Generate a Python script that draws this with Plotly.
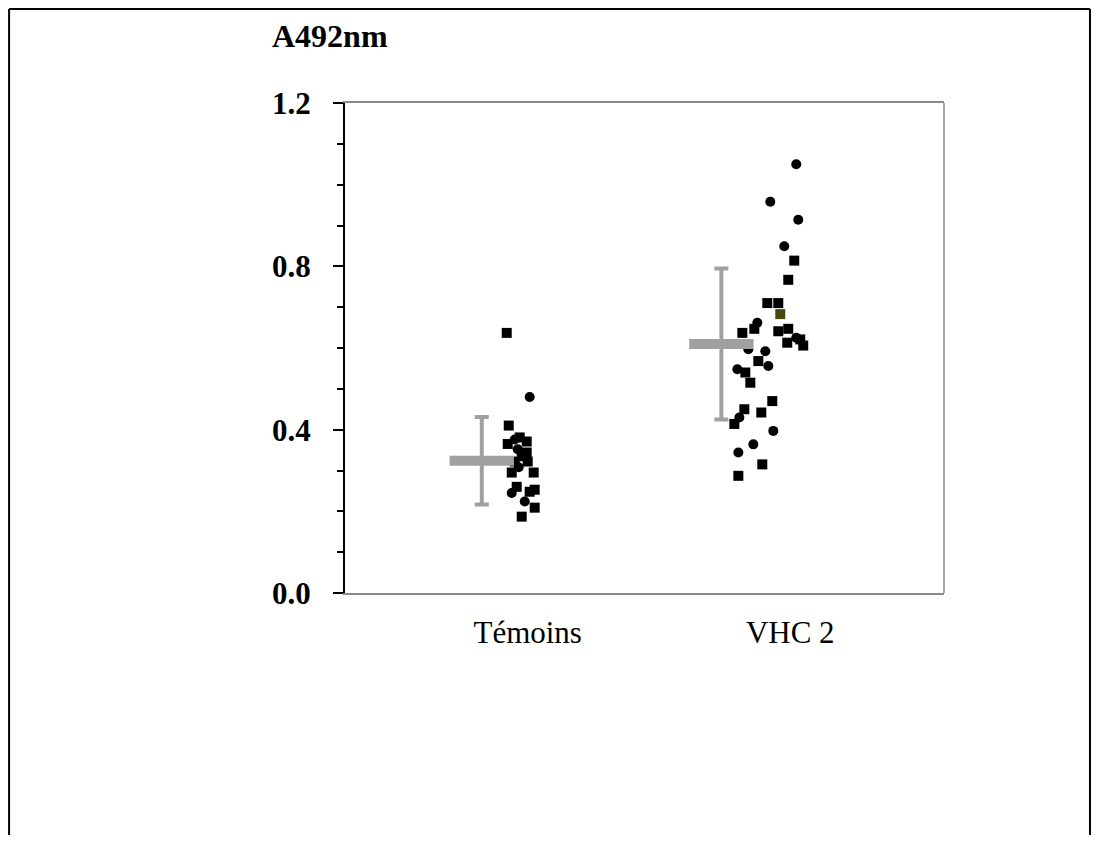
import plotly.graph_objects as go

# group names and where each group sits on the x axis
groups = ["Témoins", "VHC 2"]
group_center = [1.37, 3.77]
label_pos = [1.83, 4.46]

# mean and standard deviation per group (A492nm)
group_mean = [0.324, 0.610]
group_sd = [0.107, 0.185]

# Témoins: absorbance, horizontal jitter from the group centre, marker symbol
temoins_value = [0.637, 0.480, 0.410, 0.365, 0.376, 0.381, 0.371, 0.352, 0.344, 0.335,
                 0.322, 0.322, 0.295, 0.295, 0.308, 0.245, 0.260, 0.248, 0.209, 0.224,
                 0.253, 0.187]
temoins_offset = [0.25, 0.48, 0.27, 0.26, 0.33, 0.38, 0.45, 0.36, 0.45, 0.40,
                  0.33, 0.46, 0.30, 0.52, 0.37, 0.30, 0.35, 0.48, 0.53, 0.43,
                  0.53, 0.40]
temoins_symbol = ["square", "circle", "square", "square", "circle", "square", "square", "circle",
                  "square", "square", "square", "square", "square", "square", "circle", "circle",
                  "square", "square", "square", "circle", "square", "square"]

# VHC 2
vhc_value = [1.050, 0.958, 0.914, 0.849, 0.814, 0.767, 0.710, 0.710, 0.683, 0.662,
             0.647, 0.637, 0.641, 0.647, 0.625, 0.613, 0.621, 0.606, 0.597, 0.592,
             0.568, 0.556, 0.548, 0.540, 0.515, 0.470, 0.450, 0.442, 0.430, 0.414,
             0.397, 0.364, 0.344, 0.315, 0.287]
vhc_offset = [0.75, 0.49, 0.77, 0.63, 0.73, 0.67, 0.46, 0.57, 0.59, 0.36,
              0.33, 0.21, 0.57, 0.67, 0.75, 0.66, 0.79, 0.82, 0.27, 0.44,
              0.37, 0.47, 0.16, 0.24, 0.29, 0.51, 0.23, 0.40, 0.18, 0.13,
              0.52, 0.32, 0.17, 0.41, 0.17]
vhc_symbol = ["circle", "circle", "circle", "circle", "square", "square", "square", "square",
              "square", "circle", "square", "square", "square", "square", "circle", "square",
              "square", "square", "circle", "circle", "square", "circle", "circle", "square",
              "square", "square", "square", "square", "circle", "square", "circle", "circle",
              "circle", "square", "square"]
vhc_color = ["black"] * len(vhc_value)
vhc_color[8] = "#4a4a10"

FONT = "Liberation Serif, Times New Roman, serif"
GREY = "#a0a0a0"

fig = go.Figure()

# points
fig.add_trace(go.Scatter(
    x=[group_center[0] + o for o in temoins_offset], y=temoins_value,
    mode="markers",
    marker=dict(symbol=temoins_symbol, size=10, color="black"),
))
fig.add_trace(go.Scatter(
    x=[group_center[1] + o for o in vhc_offset], y=vhc_value,
    mode="markers",
    marker=dict(symbol=vhc_symbol, size=10, color=vhc_color),
))

# mean +/- SD
fig.add_trace(go.Scatter(
    x=group_center, y=group_mean,
    mode="markers",
    marker=dict(symbol="line-ew", size=46, line=dict(width=10, color=GREY)),
    error_y=dict(type="data", array=group_sd, color=GREY, thickness=4, width=7),
))

# outer page frame (left, top, right), in paper units
fx0, fx1, fy0, fy1 = -0.5608, 1.2437, -0.53, 1.1918

fig.update_layout(
    width=1085, height=827,
    margin=dict(l=337, r=149, t=95, b=242),
    paper_bgcolor="white", plot_bgcolor="white",
    showlegend=False,
    font=dict(family=FONT, color="black"),
    xaxis=dict(
        range=[0, 6], showgrid=False, zeroline=False,
        showline=True, linecolor="#8a8a8a", linewidth=1.5, mirror=True,
        tickvals=label_pos, ticktext=groups, ticks="",
        tickfont=dict(size=31, family=FONT), ticklabelstandoff=11,
    ),
    yaxis=dict(
        range=[0, 1.2], showgrid=False, zeroline=False,
        showline=True, linecolor="black", linewidth=2,
        tickvals=[0, 0.4, 0.8, 1.2], ticktext=["0.0", "0.4", "0.8", "1.2"],
        ticks="outside", ticklen=10, tickwidth=2, tickcolor="black",
        tickfont=dict(size=31, family=FONT, weight="bold"), ticklabelstandoff=16,
        minor=dict(dtick=0.1, ticks="outside", ticklen=6, tickwidth=2, tickcolor="black"),
    ),
    annotations=[dict(
        text="A492nm", xref="paper", yref="paper", x=-0.126, y=1.137,
        xanchor="left", yanchor="middle", showarrow=False,
        font=dict(size=32, family=FONT, weight="bold"),
    )],
    shapes=[
        # right side of the plot frame
        dict(type="line", xref="paper", yref="paper", x0=1, x1=1, y0=0, y1=1,
             line=dict(color="#8a8a8a", width=1.5), layer="below"),
        dict(type="line", xref="paper", yref="paper", x0=fx0, x1=fx0, y0=fy0, y1=fy1,
             line=dict(color="black", width=2)),
        dict(type="line", xref="paper", yref="paper", x0=fx0, x1=fx1, y0=fy1, y1=fy1,
             line=dict(color="black", width=2)),
        dict(type="line", xref="paper", yref="paper", x0=fx1, x1=fx1, y0=fy0, y1=fy1,
             line=dict(color="black", width=2)),
    ],
)

fig.write_html("out.html")
